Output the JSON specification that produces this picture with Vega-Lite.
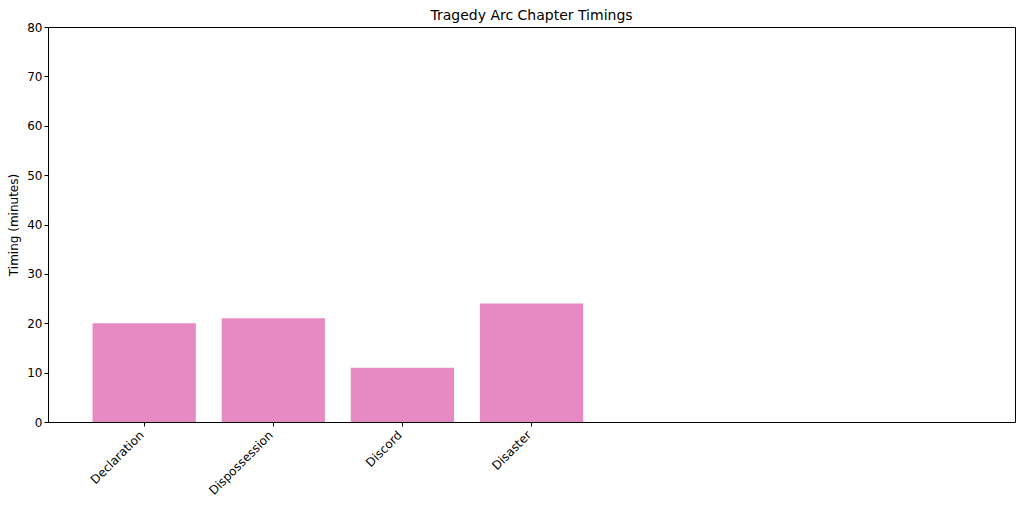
{
  "$schema": "https://vega.github.io/schema/vega-lite/v6.json",
  "width": 967,
  "height": 395,
  "autosize": {"type": "none"},
  "padding": {"left": 48, "top": 27, "right": 9, "bottom": 85},
  "background": "white",
  "title": {"text": "Tragedy Arc Chapter Timings", "font": "DejaVu Sans", "fontSize": 14, "fontWeight": "normal", "color": "#000000", "offset": 6, "dy": 8},
  "config": {
    "view": {"stroke": "#000000", "strokeWidth": 1},
    "axis": {"labelFont": "DejaVu Sans", "titleFont": "DejaVu Sans", "labelFontSize": 12, "titleFontSize": 12, "titleFontWeight": "normal", "labelColor": "#000000", "titleColor": "#000000", "tickColor": "#000000", "domainColor": "#000000", "grid": false, "tickSize": 4}
  },
  "data": {"values": [
    {"chapter": "Declaration", "timing": 20},
    {"chapter": "Dispossession", "timing": 21},
    {"chapter": "Discord", "timing": 11},
    {"chapter": "Disaster", "timing": 24}
  ]},
  "mark": {"type": "bar", "color": "#e78ac3"},
  "encoding": {
    "x": {
      "field": "chapter", "type": "nominal",
      "scale": {"domain": ["Declaration", "Dispossession", "Discord", "Disaster", " ", "  ", "   "], "paddingInner": 0.2, "paddingOuter": 0.345},
      "axis": {"title": null, "values": ["Declaration", "Dispossession", "Discord", "Disaster"], "labelAngle": -45, "labelAlign": "right", "labelBaseline": "top", "labelPadding": 3, "labelOffset": -6, "domain": false}
    },
    "y": {
      "field": "timing", "type": "quantitative",
      "scale": {"domain": [0, 80], "nice": false},
      "axis": {"title": "Timing (minutes)", "values": [0, 10, 20, 30, 40, 50, 60, 70, 80], "domain": false, "titlePadding": 6}
    }
  }
}
